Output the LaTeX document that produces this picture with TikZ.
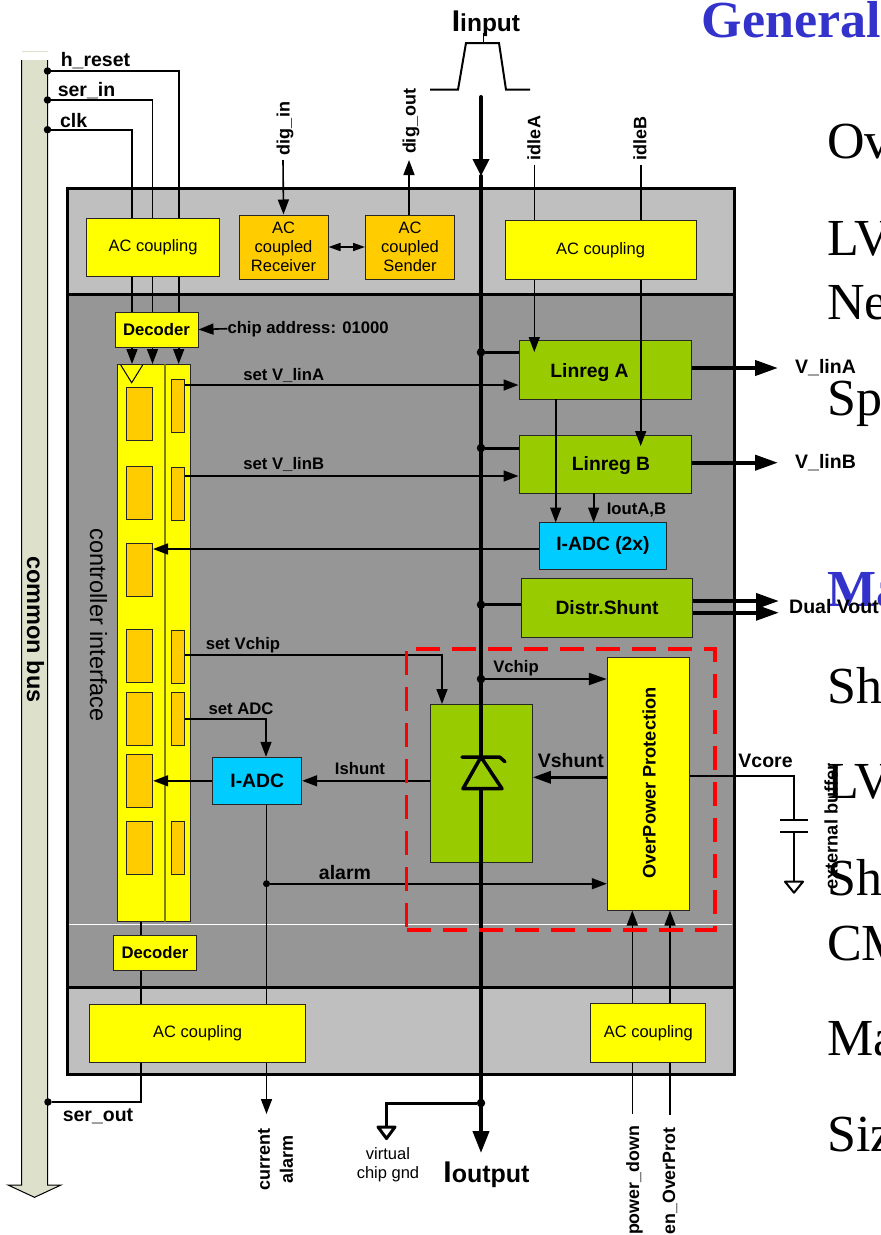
\documentclass[tikz,border=0pt]{standalone}
\usepackage{fontspec}
\setmainfont{Liberation Sans}
\newfontfamily\slidefont{Liberation Serif}
\usepackage{tikz}
\usetikzlibrary{arrows.meta, positioning, calc}

\definecolor{bandlight}{HTML}{BFBFBF}
\definecolor{bandmid}{HTML}{969696}
\definecolor{acyellow}{HTML}{FFFF00}
\definecolor{acorange}{HTML}{FFCC00}
\definecolor{reggreen}{HTML}{99CC00}
\definecolor{adccyan}{HTML}{00CCFF}
\definecolor{busfill}{HTML}{DDE1CB}
\definecolor{titleblue}{HTML}{3333CC}
\definecolor{dividerline}{HTML}{808000}

\tikzset{
  boxsize/.style 2 args={minimum width=#1pt, minimum height=#2pt, inner sep=0pt},
  chipband/.style={draw=black, line width=3pt},
  block/.style={draw=black!85, line width=1pt, align=center},
  acbox/.style={block, fill=acyellow, font=\fontsize{16.5}{19}\selectfont},
  coupled/.style={block, fill=acorange, font=\fontsize{16.5}{19}\selectfont},
  regbox/.style={block, fill=reggreen, font=\bfseries\fontsize{19.3}{22}\selectfont},
  adcbox/.style={block, fill=adccyan, font=\bfseries\fontsize{19.3}{22}\selectfont},
  decbox/.style={block, fill=acyellow, font=\bfseries\fontsize{16.7}{19}\selectfont},
  cellbox/.style={block, fill=acorange},
  lblsmall/.style={inner sep=0pt, font=\bfseries\fontsize{16.7}{19}\selectfont},
  lblmid/.style={inner sep=0pt, font=\bfseries\fontsize{18}{23}\selectfont, align=center},
  lblbig/.style={inner sep=0pt, font=\bfseries\fontsize{19.5}{22}\selectfont},
  lblplain/.style={inner sep=0pt, align=center, font=\fontsize{16.5}{19}\selectfont},
  lblbody/.style={inner sep=0pt, anchor=base west, font=\slidefont\fontsize{52}{60}\selectfont},
  lblhead/.style={lblbody, text=titleblue, font=\slidefont\bfseries\fontsize{52}{60}\selectfont},
  sigline/.style={line width=1.6pt},
  sigarrow/.style={-{Triangle[length=15pt, width=11pt]}},
  powerline/.style={line width=3pt},
  powerarrow/.style={-{Triangle[length=23pt, width=15pt]}},
  mainline/.style={line width=4pt, line cap=round},
  maindot/.style={circle, fill=black, minimum size=8.5pt, inner sep=0pt},
  busdot/.style={circle, fill=black, minimum size=7.5pt, inner sep=0pt},
  protbox/.style={draw=red, line width=3.5pt, dash pattern=on 24pt off 12pt},
}

\begin{document}
\begin{tikzpicture}[x=1pt, y=-1pt]
  \useasboundingbox (0,0) rectangle (881,1235);
  \clip (0,0) rectangle (881,1235);

  % slide text behind the figure
  \node[lblhead] (tgeneral) at (701.5,37) {General};
  \node[lblbody] (tov) at (827,158) {Ov};
  \node[lblbody] (tlva) at (827,255) {LV};
  \node[lblbody] (tne) at (827,319) {Ne};
  \node[lblbody] (tsp) at (827,415) {Sp};
  \node[lblhead] (tma) at (827,606) {Ma};
  \node[lblbody] (tsha) at (827,703) {Sh};
  \node[lblbody] (tlvb) at (827,798) {LV};
  \node[lblbody] (tshb) at (827,895) {Sh};
  \node[lblbody] (tcm) at (827,960) {CM};
  \node[lblbody] (tmb) at (827,1055) {Ma};
  \node[lblbody] (tsiz) at (827,1151.5) {Siz};

  % common bus
  \fill[busfill] (21.5,50.5) rectangle (47.5,52);
  \draw[fill=busfill, line width=1pt] (21.5,60) -- (21.5,1185) -- (8,1185) -- (34.5,1197.3) -- (61,1185) -- (47.5,1185) -- (47.5,60);
  \node[inner sep=0pt, rotate=-90, font=\bfseries\fontsize{23.5}{26}\selectfont] (buslabel) at (35.5,629.5) {common bus};

  % chip bands
  \node[chipband, fill=bandmid, boxsize={667}{693}] (chipmid) at (400.5,640.5) {};
  \node[chipband, fill=bandlight, boxsize={667}{106}] (chiptop) at (400.5,241) {};
  \node[chipband, fill=bandlight, boxsize={667}{87}] (chipbot) at (400.5,1030.5) {};
  \coordinate (whiteL) at (69,924.5);
  \coordinate (whiteR) at (732,924.5);
  \draw[white, line width=1pt] (whiteL) -- (whiteR);

  % bus signals into the chip
  \node[busdot] (dotreset) at (47.5,71) {};
  \node[busdot] (dotserin) at (47.5,100) {};
  \node[busdot] (dotclk) at (47.5,129.7) {};
  \node[busdot] (dotserout) at (48,1102) {};
  \coordinate (ctlreset) at (178.7,364);
  \coordinate (ctlserin) at (152.5,364);
  \coordinate (ctlclk) at (132,364);
  \coordinate (ctlserout) at (141,921);
  \draw[sigline, sigarrow] (dotreset) -| (ctlreset);
  \draw[sigline, sigarrow] (dotserin) -| (ctlserin);
  \draw[sigline, sigarrow] (dotclk) -| (ctlclk);
  \draw[sigline] (dotserout) -| (ctlserout);
  \node[lblbig] (lreset) at (95.5,60.5) {h\_reset};
  \node[lblbig] (lserin) at (86.5,90.5) {ser\_in};
  \node[lblbig] (lclk) at (73.7,121) {clk};
  \node[lblbig] (lserout) at (98,1116.5) {ser\_out};

  % regulators
  \node[regbox, boxsize={172}{58.5}] (linrega) at (605.5,370) {};
  \node[regbox, boxsize={172}{58}] (linregb) at (605.5,464) {};
  \node[regbox, boxsize={171.5}{59}] (shunt) at (607,607.8) {Distr.Shunt};
  \node[adcbox, boxsize={127}{47}] (adctwo) at (603,546) {I-ADC (2x)};
  \node[regbox, boxsize={101.5}{158.5}] (zener) at (481.5,783.7) {};

  % idle signals
  \coordinate (idleatop) at (534.3,164.7);
  \coordinate (idleatip) at (534.3,352);
  \coordinate (idlebtop) at (640.7,164.7);
  \coordinate (idlebtip) at (640.7,446);
  \draw[sigline, sigarrow] (idleatop) -- (idleatip);
  \draw[sigline, sigarrow] (idlebtop) -- (idlebtip);
  \node[lblmid, rotate=90] (lidlea) at (534,138) {idleA};
  \node[lblmid, rotate=90] (lidleb) at (640,138.5) {idleB};

  % current monitor inputs
  \coordinate (monatop) at (555.7,399);
  \coordinate (monatip) at (555.7,522.5);
  \coordinate (monbtop) at (593.7,493);
  \coordinate (monbtip) at (593.7,522.5);
  \draw[sigline, sigarrow] (monatop) -- (monatip);
  \draw[sigline, sigarrow] (monbtop) -- (monbtip);
  \node[lblsmall] (lmon) at (636.5,510) {IoutA,B};
  \node[regbox, anchor=base, draw=none, fill=none] (lrega) at (589.5,377) {Linreg A};
  \node[regbox, anchor=base, draw=none, fill=none] (lregb) at (611,470) {Linreg B};

  % controller interface
  \node[block, fill=acyellow, boxsize={73}{557.5}] (ctl) at (154,642.75) {};
  \coordinate (divx) at (165,0);
  \draw[dividerline, line width=1.3pt] (ctl.north -| divx) -- (ctl.south -| divx);
  \coordinate (clka) at (120.7,365);
  \coordinate (clkb) at (142.7,365);
  \coordinate (clkc) at (131.7,382.7);
  \draw[line width=1pt] (clka) -- (clkc) -- (clkb);
  \node[cellbox, boxsize={26}{53}] (cella) at (139.7,414) {};
  \node[cellbox, boxsize={26}{53}] (cellb) at (139.7,493.3) {};
  \node[cellbox, boxsize={26}{53}] (cellc) at (139.7,570) {};
  \node[cellbox, boxsize={26}{53}] (celld) at (139.7,656.3) {};
  \node[cellbox, boxsize={26}{53}] (celle) at (139.7,719.3) {};
  \node[cellbox, boxsize={26}{53}] (cellf) at (139.7,780.8) {};
  \node[cellbox, boxsize={26}{53}] (cellg) at (139.7,848.3) {};
  \node[cellbox, boxsize={13.4}{53}] (rega) at (178,405.5) {};
  \node[cellbox, boxsize={13.4}{53}] (regb) at (178,493.5) {};
  \node[cellbox, boxsize={13.4}{53}] (regc) at (178,657) {};
  \node[cellbox, boxsize={13.4}{53}] (regd) at (178,719.3) {};
  \node[cellbox, boxsize={13.4}{53}] (rege) at (178,848.3) {};
  \node[inner sep=0pt, rotate=-90, font=\fontsize{23.5}{26}\selectfont] (ctllabel) at (98.5,625) {controller interface};

  % settings from the controller
  \coordinate (tipa) at (518.5,385);
  \coordinate (tipb) at (518.5,476);
  \coordinate (kneevchip) at (442,654.7);
  \coordinate (tipvchip) at (442,704);
  \coordinate (kneeadc) at (266,718.7);
  \draw[sigline, sigarrow] (rega.east |- tipa) -- (tipa);
  \draw[sigline, sigarrow] (regb.east |- tipb) -- (tipb);
  \draw[sigline, sigarrow] (regc.east |- kneevchip) -- (kneevchip) -- (tipvchip);
  \node[adcbox, boxsize={89}{47}] (adcone) at (257.2,780.8) {I-ADC};
  \draw[sigline, sigarrow] (regd.east |- kneeadc) -- (kneeadc) -- (kneeadc |- adcone.north);
  \node[lblsmall] (lseta) at (283.7,375.5) {set V\_linA};
  \node[lblsmall] (lsetb) at (283.7,464) {set V\_linB};
  \node[lblsmall] (lsetc) at (243,645) {set Vchip};
  \node[lblsmall] (lsetd) at (241,708.5) {set ADC};

  % readings back to the controller
  \coordinate (tipcell) at (153,549);
  \draw[sigline, sigarrow] (adctwo.west |- tipcell) -- (tipcell);
  \draw[sigline, sigarrow] (adcone.west) -- (cellf.east);
  \draw[sigline, sigarrow] (zener.west |- adcone.east) -- (adcone.east);
  \node[lblsmall] (lishunt) at (360,769) {Ishunt};

  % alarm
  \coordinate (alarmout) at (266.5,1114);
  \node[maindot, minimum size=7pt] (dotalarm) at (266.5,883.7) {};
  \draw[sigline, sigarrow] (adcone.south -| alarmout) -- (alarmout);
  \node[lblbig] (lalarm) at (345,873) {alarm};
  \node[lblmid, rotate=90] (lcurrent) at (275.5,1159) {current\\alarm};

  % overpower protection
  \node[block, fill=acyellow, boxsize={82}{252.5}] (opp) at (648.3,783.8) {};
  \node[inner sep=0pt, rotate=90, font=\bfseries\fontsize{18.2}{21}\selectfont] (opplabel) at (649,783) {OverPower Protection};
  \draw[sigline, sigarrow] (dotalarm) -- (dotalarm -| opp.west);
  \coordinate (pdownend) at (632.3,1114);
  \coordinate (enprotend) at (670,1115);
  \draw[sigline, sigarrow] (pdownend) -- (pdownend |- opp.south);
  \draw[sigline, sigarrow] (enprotend) -- (enprotend |- opp.south);
  \node[lblmid, font=\bfseries\fontsize{17.8}{20}\selectfont, rotate=90] (lpdown) at (634.5,1180.5) {power\_down};
  \node[lblmid, font=\bfseries\fontsize{17.8}{20}\selectfont, rotate=90] (lenprot) at (670,1181) {en\_OverProt};

  % AC coupling blocks
  \node[acbox, boxsize={133}{58}] (actl) at (153,247) {AC coupling};
  \node[acbox, boxsize={191}{59}] (actr) at (600.5,250) {AC coupling};
  \node[acbox, boxsize={215.5}{58}] (acbl) at (197.7,1033) {AC coupling};
  \node[acbox, boxsize={114.7}{58.5}] (acbr) at (648.3,1033) {AC coupling};
  \node[decbox, boxsize={83}{35}] (dectop) at (156.5,329.5) {Decoder};
  \node[decbox, boxsize={83}{35}] (decbot) at (155,952.5) {Decoder};
  \node[lblsmall, anchor=west] (laddr) at (227.3,328.7) {chip address: 01000};
  \draw[sigline, sigarrow] (laddr.west) -- (dectop.east);

  % digital link
  \node[coupled, boxsize={89}{64}] (acrx) at (283.5,247) {AC\\coupled\\Receiver};
  \node[coupled, boxsize={89}{64}] (actx) at (410,247) {AC\\coupled\\Sender};
  \draw[sigline, {Triangle[length=12pt, width=8pt]}-{Triangle[length=12pt, width=8pt]}] (acrx) -- (actx);
  \coordinate (digintop) at (283,160);
  \coordinate (digouttip) at (409,160);
  \draw[sigline, sigarrow] (digintop) -- (acrx.north);
  \draw[sigline, sigarrow] (actx.north -| digouttip) -- (digouttip);
  \node[lblmid, rotate=90] (ldigin) at (285,128.5) {dig\_in};
  \node[lblmid, rotate=90] (ldigout) at (411,121.5) {dig\_out};

  % current path
  \coordinate (curin) at (481,97);
  \coordinate (curmid) at (481,176);
  \coordinate (curout) at (481,1153);
  \draw[mainline, -{Triangle[length=17pt, width=16pt]}] (curin) -- (curmid);
  \draw[mainline, -{Triangle[length=22pt, width=16pt]}] (curmid) -- (curout);
  \coordinate (pulsea) at (430,89.7);
  \coordinate (pulseb) at (458,89.7);
  \coordinate (pulsec) at (466,43);
  \coordinate (pulsed) at (499,43);
  \coordinate (pulsee) at (506,89.7);
  \coordinate (pulsef) at (530,89.7);
  \coordinate (pulsetick) at (483.3,33);
  \draw[line width=2pt] (pulsea) -- (pulseb) -- (pulsec) -- (pulsed) -- (pulsee) -- (pulsef);
  \draw[line width=1pt] (pulsetick) -- (pulsetick |- pulsec);
  \node[inner sep=0pt, anchor=base, font=\bfseries] (linput) at (486,31.7) {{\fontsize{30}{30}\selectfont I}{\fontsize{24.5}{30}\selectfont input}};
  \node[inner sep=0pt, anchor=base, font=\bfseries] (loutput) at (486.5,1182.5) {{\fontsize{30}{30}\selectfont I}{\fontsize{25}{30}\selectfont output}};

  % taps on the current path
  \node[maindot] (dota) at (481,352.3) {};
  \node[maindot] (dotb) at (481,448) {};
  \node[maindot] (dotc) at (481,604.7) {};
  \node[maindot] (dotd) at (481,679) {};
  \node[maindot] (dote) at (481,1103) {};
  \draw[powerline] (dota) -- (dota -| linrega.west);
  \draw[powerline] (dotb) -- (dotb -| linregb.west);
  \draw[powerline] (dotc) -- (dotc -| shunt.west);
  \draw[line width=2.2pt, -{Triangle[length=18pt, width=12pt]}] (dotd) -- (dotd -| opp.west);
  \node[lblsmall] (lvchip) at (516,667.7) {Vchip};

  % outputs
  \coordinate (vouta) at (778,368);
  \coordinate (voutb) at (778,462.7);
  \coordinate (voutc) at (779,601);
  \coordinate (voutd) at (779,612.7);
  \draw[line width=4pt, powerarrow] (linrega.east |- vouta) -- (vouta);
  \draw[line width=4pt, powerarrow] (linregb.east |- voutb) -- (voutb);
  \draw[line width=4pt, powerarrow] (shunt.east |- voutc) -- (voutc);
  \draw[line width=4pt, powerarrow] (shunt.east |- voutd) -- (voutd);
  \node[lblbig] (lvlina) at (825.5,368) {V\_linA};
  \node[lblbig] (lvlinb) at (825.5,462.7) {V\_linB};
  \node[lblbig, anchor=west] (lvdual) at (789,607) {Dual Vout};

  % zener symbol
  \coordinate (zenertop) at (481,757);
  \coordinate (zenerbarl) at (462,757);
  \coordinate (zenerbarr) at (499.5,757);
  \coordinate (zenerhook) at (505,761.7);
  \coordinate (zenerbasel) at (463,788.7);
  \coordinate (zenerbaser) at (502,788.7);
  \draw[fill=reggreen, line width=3.5pt, line join=round] (zenertop) -- (zenerbaser) -- (zenerbasel) -- cycle;
  \draw[line width=3.5pt, line cap=round, line join=round] (zenerbarl) -- (zenerbarr) -- (zenerhook);

  % shunt control and buffer
  \coordinate (vshuntout) at (607,777.3);
  \draw[powerline, -{Triangle[length=18pt, width=12pt]}] (vshuntout) -- (vshuntout -| zener.east);
  \node[lblbig] (lvshunt) at (570.8,761) {Vshunt};
  \coordinate (vcoreknee) at (794,775.7);
  \coordinate (capa) at (794,820);
  \coordinate (capb) at (794,832);
  \coordinate (gndbuf) at (794,881.7);
  \draw[line width=2pt] (opp.east |- vcoreknee) -- (vcoreknee) -- (capa);
  \draw[line width=2pt] (capb) -- (gndbuf);
  \draw[line width=2.2pt] (capa) +(-14,0) -- +(14,0);
  \draw[line width=2.2pt] (capb) +(-14,0) -- +(14,0);
  \draw[line width=2pt, fill=white, line join=round] (gndbuf) +(-9,0) -- +(9,0) -- +(0,11) -- cycle;
  \node[lblbig] (lvcore) at (765.5,761) {Vcore};
  \node[inner sep=0pt, rotate=90, font=\bfseries\fontsize{18.2}{21}\selectfont] (lbuffer) at (831,826.5) {external buffer};

  % virtual ground
  \coordinate (gndknee) at (386.5,1103);
  \coordinate (gndchip) at (386.5,1127);
  \draw[powerline] (dote) -- (gndknee) -- (gndchip);
  \draw[line width=3pt, fill=white, line join=round] (gndchip) +(-8.5,0) -- +(8.5,0) -- +(0,11.5) -- cycle;
  \node[lblplain] (lgnd) at (388,1165) {virtual\\chip gnd};

  % protected area
  \node[protbox, boxsize={308.3}{281}] (protect) at (560.85,789.5) {};
\end{tikzpicture}
\end{document}
